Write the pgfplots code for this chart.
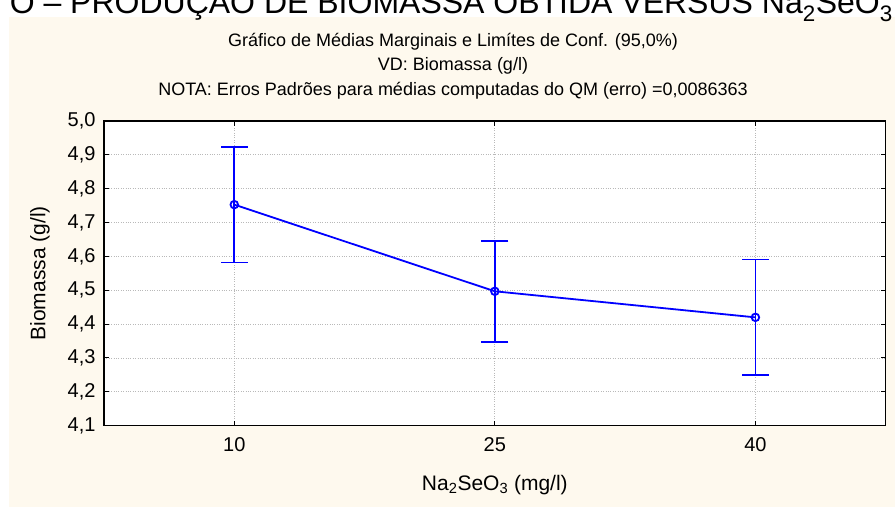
\documentclass[border=0pt]{standalone}
\usepackage{fontspec}
\setmainfont{Liberation Sans}
\usepackage{pgfplots}
\pgfplotsset{compat=1.18}
\definecolor{cream}{RGB}{254,249,238}
\definecolor{gridgray}{RGB}{185,185,185}
\definecolor{statblue}{RGB}{0,0,255}
\begin{document}
\begin{tikzpicture}[x=1pt,y=1pt]
\useasboundingbox (0,0) rectangle (895,507);
\fill[cream] (9,0) rectangle (895,490);
% caption of the page, cut at the top
\node[anchor=base east, inner sep=0pt, font=\fontsize{32}{38}\selectfont] at (893,493)
  {O – PRODUÇÃO DE BIOMASSA OBTIDA VERSUS Na\textsubscript{2}SeO\textsubscript{3}};
% chart title
\node[anchor=base, inner sep=0pt, font=\fontsize{18}{22}\selectfont] at (453,460) {Gráfico de Médias Marginais e Limítes de Conf. (95,0\%)};
\node[anchor=base, inner sep=0pt, font=\fontsize{18}{22}\selectfont] at (453,436) {VD: Biomassa (g/l)};
\node[anchor=base, inner sep=0pt, font=\fontsize{18}{22}\selectfont] at (453,411) {NOTA: Erros Padrões para médias computadas do QM (erro) =0,0086363};
\begin{axis}[
  at={(104pt,81.3pt)}, anchor=south west,
  scale only axis, width=781.7pt, height=304.7pt,
  axis background/.style={fill=white},
  axis line style={line width=1.3pt},
  clip=false,
  xmin=2.5, xmax=47.5,
  ymin=4.1, ymax=5.0,
  xtick={10,25,40},
  ytick={4.1,4.2,4.3,4.4,4.5,4.6,4.7,4.8,4.9,5.0},
  tick align=inside,
  major tick length=5pt,
  tick style={black, line width=1pt},
  grid=major,
  grid style={gridgray, dotted, line width=0.8pt},
  /pgf/number format/assume math mode=true,
  ticklabel style={font=\fontsize{20}{24}\selectfont},
  yticklabel style={xshift=-5pt, /pgf/number format/.cd, fixed, fixed zerofill, precision=1, use comma},
  xticklabel style={yshift=-8pt},
  xlabel={Na\textsubscript{2}SeO\textsubscript{3} (mg/l)},
  ylabel={Biomassa (g/l)},
  label style={font=\fontsize{21}{25}\selectfont},
  xlabel style={at={(axis description cs:0.5,-0.195)}, anchor=center},
  ylabel style={at={(axis description cs:-0.082,0.5)}, anchor=center},
  cibar/.style={draw=statblue, line width=1.8pt, mark=-, mark size=13.5pt,
    mark options={draw=statblue, line width=1.8pt}, forget plot},
]
% 95% confidence limits (lower, upper) for each mean
\addplot[cibar] coordinates {(10,4.582) (10,4.924)};
\addplot[cibar] coordinates {(25,4.348) (25,4.646)};
\addplot[cibar] coordinates {(40,4.249) (40,4.591)};
% means
\addplot[draw=statblue, line width=1.8pt, mark=o, mark size=3.8pt,
  mark options={draw=statblue, fill=white, solid}]
coordinates {
  (10,4.753)
  (25,4.497)
  (40,4.420)
};
\end{axis}
\end{tikzpicture}
\end{document}
